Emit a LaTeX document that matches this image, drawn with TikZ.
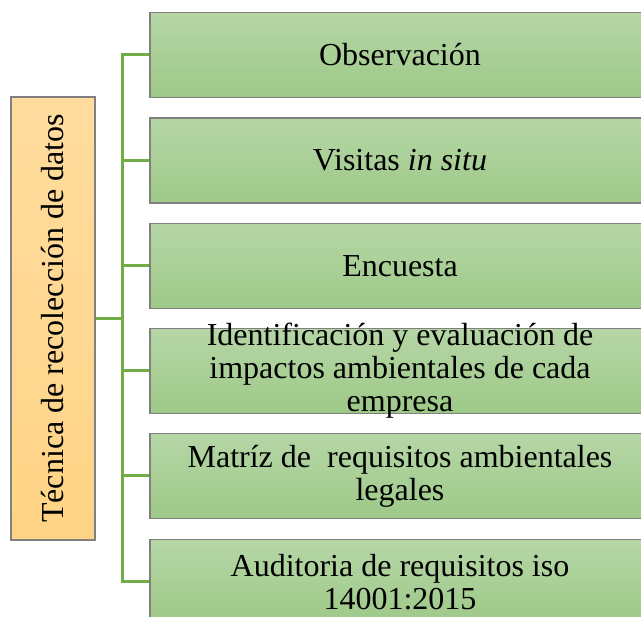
\documentclass[tikz,border=0pt]{standalone}
\usepackage{fontspec}
\setmainfont{Liberation Serif}
\usepackage{tikz}

\definecolor{boxtop}{RGB}{182,214,166}
\definecolor{boxbot}{RGB}{157,201,136}
\definecolor{tectop}{RGB}{255,220,158}
\definecolor{tecbot}{RGB}{255,212,134}
\definecolor{linkgreen}{RGB}{112,173,71}
\definecolor{edge}{RGB}{128,128,128}

\tikzset{
    itembox/.style={draw=edge, line width=1.2pt, top color=boxtop, bottom color=boxbot,
        minimum width=500pt, minimum height=85pt, inner sep=0pt},
    tecbox/.style={draw=edge, line width=1.2pt, top color=tectop, bottom color=tecbot,
        minimum width=84pt, minimum height=443pt, inner sep=0pt},
    itemtext/.style={align=center, font=\fontsize{32}{33}\selectfont, inner sep=0pt},
    link/.style={linkgreen, line width=3pt}
}

\begin{document}
\begin{tikzpicture}[x=1pt, y=-1pt]
        \useasboundingbox (0,0) rectangle (641,617);

        % Draw the left box
        \node[tecbox] (tec) at (53,318.5) {};
        \node[itemtext, rotate=90] (tectext) at (tec) {Técnica de recolección de datos};

        % Draw the item boxes
        \foreach \name/\y/\txt in {obs/55/Observación,
                vis/160.5/Visitas \textit{in situ},
                enc/266/Encuesta,
                ide/371/Identificación y evaluación de\\impactos ambientales de cada\\empresa,
                mat/476/Matríz de~ requisitos ambientales\\legales,
                aud/582/Auditoria de requisitos iso\\14001:2015}
        {
            \node[itembox] (\name) at (400,\y) {};
            \node[itemtext] (\name text) at (\name) {\txt};
        }

        % Draw the connectors
        \coordinate (trunk) at (122,0);
        \draw[link] (tec.east) -- (tec.east -| trunk);
        \draw[link] (obs.west) -- (obs.west -| trunk) -- (aud.west -| trunk) -- (aud.west);
        \foreach \name in {vis,enc,ide,mat}
            \draw[link] (\name.west) -- (\name.west -| trunk);
    \end{tikzpicture}
\end{document}
